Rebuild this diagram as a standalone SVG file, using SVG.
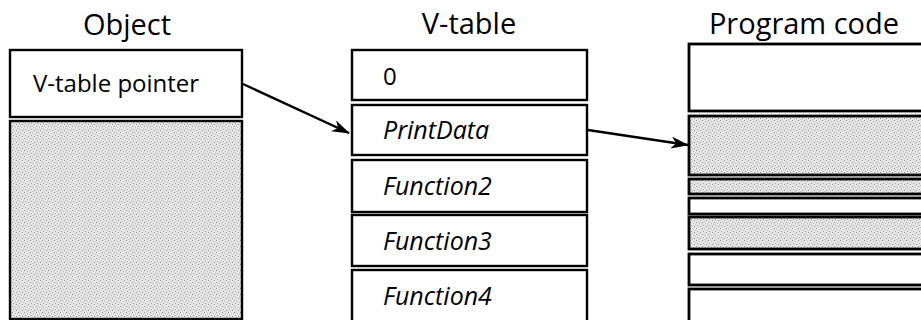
<svg xmlns="http://www.w3.org/2000/svg" width="921" height="320" viewBox="0 0 921 320">
  <style>
    .title { font-family: "Open Sans", "Liberation Sans", sans-serif; font-size: 29px; fill: #000; text-anchor: middle; }
    .label { font-family: "Open Sans", "Liberation Sans", sans-serif; font-size: 24px; fill: #000; }
    .entry { font-family: "Open Sans", "Liberation Sans", sans-serif; font-size: 25px; font-style: italic; fill: #000; }
    .box { fill: #fff; stroke: #000; stroke-width: 2.4; }
    .shade { fill: url(#stipple); stroke: #000; stroke-width: 2.4; }
    .mem { fill: #fff; stroke: #000; stroke-width: 2.8; }
    .memshade { fill: url(#stipple); stroke: #000; stroke-width: 2.8; }
    .link { fill: none; stroke: #000; stroke-width: 2.4; }
  </style>
  <defs>
    <!-- halftone-like grey fill for occupied memory -->
    <pattern id="stipple" width="6" height="6" patternUnits="userSpaceOnUse">
      <rect width="6" height="6" fill="#e6e6e6"/>
      <rect x="0" y="0" width="1" height="1" fill="#8c8c8c"/>
      <rect x="3" y="1" width="1" height="1" fill="#b0b0b0"/>
      <rect x="1" y="3" width="1" height="1" fill="#9a9a9a"/>
      <rect x="4" y="4" width="1" height="1" fill="#8c8c8c"/>
      <rect x="2" y="5" width="1" height="1" fill="#c4c4c4"/>
      <rect x="5" y="2" width="1" height="1" fill="#c4c4c4"/>
    </pattern>
    <marker id="head" viewBox="0 0 18 12" refX="17" refY="6" markerWidth="18" markerHeight="12" markerUnits="userSpaceOnUse" orient="auto">
      <path d="M0,0 L18,6 L0,12 L5,6 z" fill="#000"/>
    </marker>
  </defs>

  <!-- Object -->
  <g id="object">
    <text class="title" x="127" y="35">Object</text>
    <rect class="box" x="10" y="50" width="232" height="67"/>
    <text class="label" x="33" y="92">V-table pointer</text>
    <rect class="shade" x="10" y="121" width="232" height="198"/>
  </g>

  <!-- V-table -->
  <g id="vtable">
    <text class="title" x="469" y="34">V-table</text>
    <rect class="box" x="352" y="50" width="235" height="50"/>
    <text class="label" x="383" y="85">0</text>
    <rect class="box" x="352" y="105" width="235" height="50"/>
    <text class="entry" x="383" y="139">PrintData</text>
    <rect class="box" x="352" y="160" width="235" height="52"/>
    <text class="entry" x="383" y="195">Function2</text>
    <rect class="box" x="352" y="215" width="235" height="51"/>
    <text class="entry" x="383" y="250">Function3</text>
    <rect class="box" x="352" y="270" width="235" height="52"/>
    <text class="entry" x="383" y="305">Function4</text>
  </g>

  <!-- Program code -->
  <g id="program-code">
    <text class="title" x="804" y="34">Program code</text>
    <rect class="mem" x="689" y="44" width="240" height="67"/>
    <rect class="memshade" x="689" y="116" width="240" height="59"/>
    <rect class="memshade" x="689" y="179" width="240" height="15"/>
    <rect class="mem" x="689" y="198" width="240" height="16"/>
    <rect class="memshade" x="689" y="217" width="240" height="32"/>
    <rect class="mem" x="689" y="254" width="240" height="31"/>
    <rect class="mem" x="689" y="289" width="240" height="40"/>
  </g>

  <!-- pointers -->
  <g id="connectors">
    <line class="link" x1="243" y1="84" x2="349" y2="133" marker-end="url(#head)"/>
    <line class="link" x1="588" y1="130" x2="688" y2="145" marker-end="url(#head)"/>
  </g>
</svg>
